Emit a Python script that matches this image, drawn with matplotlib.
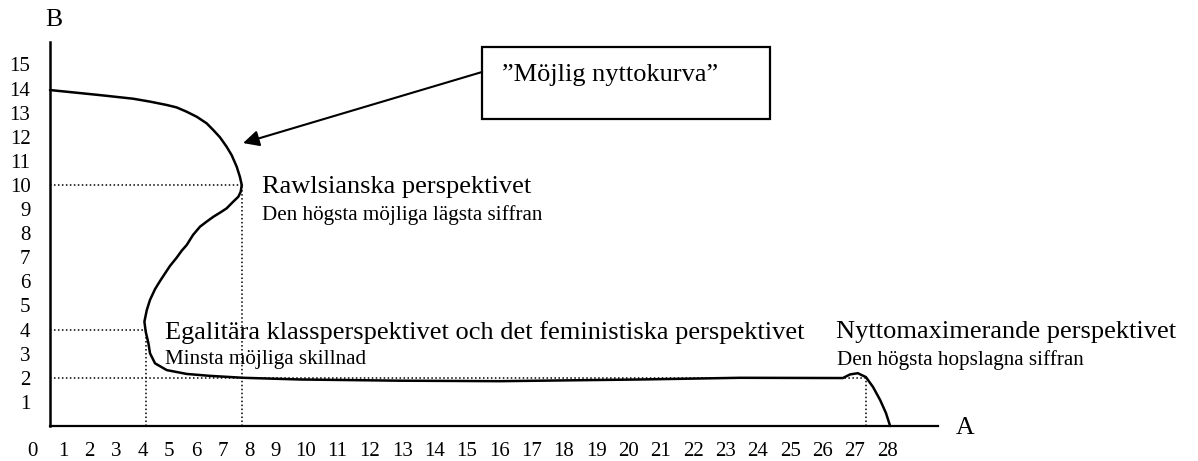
import numpy as np
import matplotlib.pyplot as plt
from matplotlib.patches import Rectangle

plt.rcParams['font.family'] = ['Liberation Serif', 'DejaVu Serif']

# "Möjlig nyttokurva" (A, B)
curve_a = [0.58, 1.14, 2.39, 3.64, 4.27, 4.90, 5.27, 5.65, 6.03, 6.40, 6.65, 6.90,
           7.15, 7.34, 7.53, 7.65, 7.72, 7.68, 7.59, 7.40, 7.15, 6.90, 6.65, 6.40,
           6.15, 5.89, 5.65, 5.46, 5.27, 5.02, 4.90, 4.65, 4.46, 4.27, 4.15, 4.06,
           4.11, 4.21, 4.27, 4.46, 4.90, 5.65, 6.53, 7.78, 9.84, 12.93, 16.02, 20.35,
           23.45, 26.54, 26.63, 26.85, 27.09, 27.34, 27.56, 27.78, 27.96, 28.09]
curve_b = [13.94, 13.87, 13.73, 13.58, 13.46, 13.32, 13.22, 13.04, 12.83, 12.56, 12.28, 11.98,
           11.59, 11.24, 10.76, 10.34, 10.0, 9.72, 9.51, 9.31, 9.03, 8.85, 8.68, 8.48,
           8.27, 7.93, 7.51, 7.27, 6.98, 6.64, 6.44, 6.02, 5.68, 5.23, 4.81, 4.33,
           3.91, 3.44, 3.02, 2.60, 2.32, 2.16, 2.08, 2.00, 1.93, 1.88, 1.86, 1.93,
           2.00, 1.99, 1.99, 2.14, 2.19, 2.03, 1.62, 1.08, 0.54, 0.0]

# marked points on the curve
point_a = [7.72, 4.12, 27.34]
point_b = [10, 4, 2]
point_names = ["Rawlsianska perspektivet",
               "Egalitära klassperspektivet och det feministiska perspektivet",
               "Nyttomaximerande perspektivet"]
point_notes = ["Den högsta möjliga lägsta siffran",
               "Minsta möjliga skillnad",
               "Den högsta hopslagna siffran"]

x_ticks = list(range(0, 29))
y_ticks = list(range(1, 16))

# label anchors (A, B) for the texts
label_xy = [(8.48, 9.92), (4.83, 3.90), (26.42, 3.90)]
note_dy = 1.16

# the A labels were typed as text: single digits sit closer than double digits,
# so use a piecewise linear scale (pixels per unit) to follow them
knot_a = [-5, 0, 1, 9.5, 40]
knot_px = [-123, 32, 63, 289.1, 1275.2]


def fwd(a):
    return np.interp(a, knot_a, knot_px)


def inv(p):
    return np.interp(p, knot_px, knot_a)


fig = plt.figure(figsize=(11.98, 4.61), dpi=100)
ax = fig.add_axes([0, 0, 1, 1])
ax.set_xscale('function', functions=(fwd, inv))
ax.set_xlim(inv(0), inv(1198))
ax.set_ylim(-35 / 24.1, 426 / 24.1)

x0 = 0.58      # where the B axis stands
a_end = 29.57  # end of the A axis
b_end = 15.93  # top of the B axis

for s in ['top', 'right']:
    ax.spines[s].set_visible(False)
ax.spines['left'].set_position(('data', x0))
ax.spines['left'].set_bounds(0, b_end)
ax.spines['bottom'].set_position(('data', 0))
ax.spines['bottom'].set_bounds(x0, a_end)
ax.spines['left'].set_linewidth(1.8)
ax.spines['bottom'].set_linewidth(1.6)

ax.set_xticks(x_ticks)
ax.set_xticklabels([str(t) for t in x_ticks])
ax.set_yticks(y_ticks)
ax.set_yticklabels([str(t) for t in y_ticks])
ax.minorticks_off()
ax.tick_params(axis='x', length=0, labelsize=15, pad=11.5)
ax.tick_params(axis='y', length=0, labelsize=15, pad=14)

# dotted guide lines
for a, b in zip(point_a, point_b):
    ax.hlines(b, x0, a, colors='black', linestyles=(0, (1, 1.6)), lw=1.1, zorder=2)
    ax.vlines(a, 0, b, colors='black', linestyles=(0, (1, 1.6)), lw=1.1, zorder=2)

ax.plot(curve_a, curve_b, color='black', lw=1.8, solid_joinstyle='round',
        solid_capstyle='round', zorder=3)

for (lx, ly), name, note in zip(label_xy, point_names, point_notes):
    ax.text(lx, ly, name, fontsize=19, ha='left', va='center')
    ax.text(lx + 0.02, ly - note_dy, note, fontsize=15.2, ha='left', va='center')

ax.text(30.41, -0.08, "A", fontsize=18.5, ha='center', va='center')
ax.text(0.69, 16.85, "B", fontsize=18.5, ha='center', va='center')

# callout box with arrow
box_a0, box_a1 = 15.47, 24.37
box_b0, box_b1 = 12.74, 15.73
ax.add_patch(Rectangle((box_a0, box_b0), box_a1 - box_a0, box_b1 - box_b0,
                       fill=False, edgecolor='black', lw=1.6, zorder=4))
ax.text(16.1, 14.56, "\u201dMöjlig nyttokurva\u201d", fontsize=19, ha='left', va='center')
ax.annotate("", xy=(7.77, 11.74), xytext=(box_a0, 14.69),
            arrowprops=dict(arrowstyle='-|>', mutation_scale=24, lw=1.5,
                            color='black', shrinkA=0, shrinkB=0))

fig.savefig("out.png", dpi=100)
